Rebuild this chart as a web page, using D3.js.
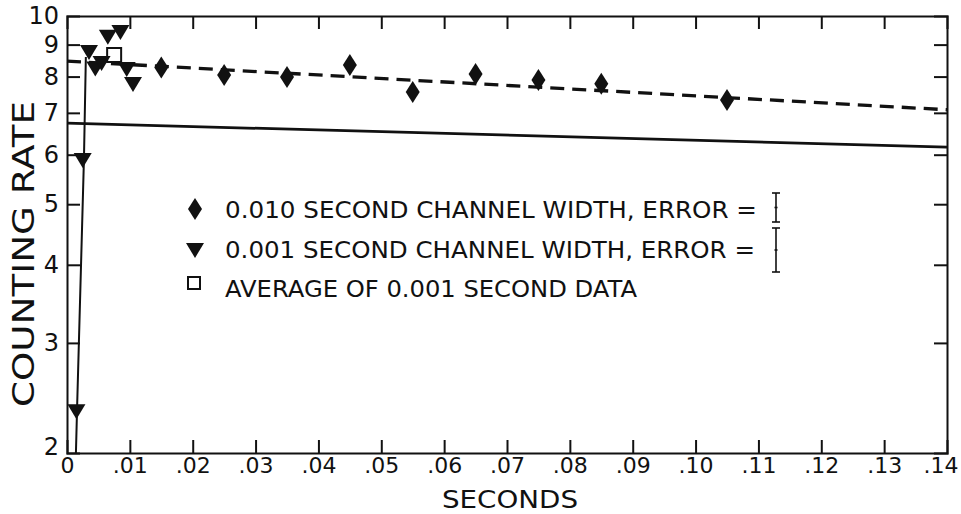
<!DOCTYPE html>
<html>
<head>
<meta charset="utf-8">
<script src="https://cdn.jsdelivr.net/npm/d3@7"></script>
<style>
  body { margin: 0; background: #fff; }
  svg { display: block; font-family: "DejaVu Sans", sans-serif; }
</style>
</head>
<body>
<svg width="961" height="514"></svg>
<script>
// values
const xTicks = [0, .01, .02, .03, .04, .05, .06, .07, .08, .09, .10, .11, .12, .13, .14];
const xTickLabels = ["0", ".01", ".02", ".03", ".04", ".05", ".06", ".07", ".08", ".09", ".10", ".11", ".12", ".13", ".14"];
const yTicks = [2, 3, 4, 5, 6, 7, 8, 9, 10];

// 0.010 s channel width
const diamondTimes = [.015, .025, .035, .045, .055, .065, .075, .085, .105];
const diamondRates = [8.27, 8.05, 7.99, 8.35, 7.56, 8.08, 7.90, 7.79, 7.34];

// 0.001 s channel width
const triangleTimes = [.0015, .0025, .0035, .0045, .0055, .0065, .0085, .0095, .0105];
const triangleRates = [2.35, 5.93, 8.82, 8.3, 8.47, 9.33, 9.5, 8.29, 7.84];

// average of 0.001 s data
const averageTime = [.0075];
const averageRate = [8.66];

// fitted lines (straight on the log scale)
const dashedLine = [[0, 8.47], [.14, 7.08]];
const solidLine = [[0, 6.74], [.14, 6.17]];
const riseLine = [[.00142, 2.0], [.0016, 2.35], [.0027, 5.93], [.0030, 8.6]];

const legendLabels = [
  "0.010 SECOND CHANNEL WIDTH,  ERROR =",
  "0.001 SECOND CHANNEL WIDTH,  ERROR =",
  "AVERAGE OF 0.001 SECOND DATA"
];

const svg = d3.select("svg");
const margin = { top: 16, right: 14, bottom: 61, left: 67 };
const width = 961, height = 514;
const ink = "#111";

const x = d3.scaleLinear()
  .domain([0, .14])
  .range([margin.left, width - margin.right]);

const y = d3.scaleLog()
  .domain([2, 10])
  .range([height - margin.bottom, margin.top]);

const tickLen = 13;

// axes with inward ticks on all four sides
const axisB = svg.append("g")
  .attr("transform", `translate(0,${y(2)})`)
  .call(d3.axisBottom(x).tickValues(xTicks).tickSize(-tickLen).tickFormat((d, i) => xTickLabels[i]).tickPadding(4));
const axisT = svg.append("g")
  .attr("transform", `translate(0,${y(10)})`)
  .call(d3.axisTop(x).tickValues(xTicks).tickSize(-tickLen).tickFormat(""));
const axisL = svg.append("g")
  .attr("transform", `translate(${x(0)},0)`)
  .call(d3.axisLeft(y).tickValues(yTicks).tickSize(-tickLen).tickFormat(d3.format("d")).tickPadding(8));
const axisR = svg.append("g")
  .attr("transform", `translate(${x(.14)},0)`)
  .call(d3.axisRight(y).tickValues(yTicks).tickSize(-tickLen).tickFormat(""));

[axisB, axisT, axisL, axisR].forEach(g => {
  g.select(".domain").attr("stroke", ink).attr("stroke-width", 2);
  g.selectAll(".tick line").attr("stroke", ink).attr("stroke-width", 2);
  g.selectAll("text").attr("fill", ink).attr("font-family", "DejaVu Sans, sans-serif");
});
axisB.selectAll("text").attr("font-size", 22);
axisL.selectAll("text").attr("font-size", 24);
// the end ticks would sit on the frame
axisB.selectAll(".tick line").filter(d => d === 0 || d === .14).remove();
axisT.selectAll(".tick line").filter(d => d === 0 || d === .14).remove();
axisL.selectAll(".tick line").filter(d => d === 2 || d === 10).remove();
axisR.selectAll(".tick line").filter(d => d === 2 || d === 10).remove();
axisL.selectAll(".tick").filter(d => d === 2).select("text").attr("dy", "0.05em");
axisB.selectAll(".tick").filter(d => d === .14).select("text")
  .attr("text-anchor", "end").attr("dx", 11);

// lines
const line = d3.line().x(d => x(d[0])).y(d => y(d[1]));

svg.append("path")
  .datum(solidLine)
  .attr("fill", "none").attr("stroke", ink).attr("stroke-width", 2.7)
  .attr("d", line);

svg.append("path")
  .datum(dashedLine)
  .attr("fill", "none").attr("stroke", ink).attr("stroke-width", 3.3)
  .attr("stroke-dasharray", "14 8")
  .attr("d", line);

svg.append("path")
  .datum(riseLine)
  .attr("fill", "none").attr("stroke", ink).attr("stroke-width", 2)
  .attr("d", line);

// marker shapes
const diamondPath = "M0,-11L7,0L0,11L-7,0Z";
const trianglePath = "M-9,-5L9,-5L0,10Z";
const squarePath = "M-7,-7H7V7H-7Z";

svg.append("g").selectAll("path")
  .data(diamondTimes)
  .join("path")
  .attr("transform", (d, i) => `translate(${x(d)},${y(diamondRates[i])})`)
  .attr("d", diamondPath)
  .attr("fill", ink);

svg.append("g").selectAll("path")
  .data(averageTime)
  .join("path")
  .attr("transform", (d, i) => `translate(${x(d)},${y(averageRate[i])})`)
  .attr("d", squarePath)
  .attr("fill", "#fff").attr("stroke", ink).attr("stroke-width", 2);

svg.append("g").selectAll("path")
  .data(triangleTimes)
  .join("path")
  .attr("transform", (d, i) => `translate(${x(d)},${y(triangleRates[i])})`)
  .attr("d", trianglePath)
  .attr("fill", ink);

// legend
const legend = svg.append("g").attr("transform", "translate(195,0)");
const rows = [209, 249, 288];
const textWidths = [532, 530, 412];
legend.append("path").attr("d", diamondPath).attr("transform", `translate(0,${rows[0]})`).attr("fill", ink);
legend.append("path").attr("d", trianglePath).attr("transform", `translate(0,${rows[1] - 1})`).attr("fill", ink);
legend.append("path").attr("d", "M-6,-6H6V6H-6Z").attr("transform", `translate(-1,${rows[2] - 5})`)
  .attr("fill", "none").attr("stroke", ink).attr("stroke-width", 2);

legend.selectAll("text")
  .data(legendLabels)
  .join("text")
  .attr("x", 30)
  .attr("y", (d, i) => rows[i] + 9)
  .attr("font-size", 23)
  .attr("fill", ink)
  .attr("textLength", (d, i) => textWidths[i])
  .attr("lengthAdjust", "spacingAndGlyphs")
  .text(d => d);

// error bar glyphs
const errorBars = [[193, 222], [228, 272]];
errorBars.forEach(([y0, y1]) => {
  const g = legend.append("g").attr("transform", "translate(581,0)")
    .attr("stroke", ink).attr("stroke-width", 1.6);
  g.append("line").attr("x1", 0).attr("x2", 0).attr("y1", y0).attr("y2", y1);
  g.append("line").attr("x1", -4).attr("x2", 4).attr("y1", y0).attr("y2", y0);
  g.append("line").attr("x1", -4).attr("x2", 4).attr("y1", y1).attr("y2", y1);
  g.append("line").attr("x1", -1.5).attr("x2", 1.5).attr("y1", (y0 + y1) / 2).attr("y2", (y0 + y1) / 2);
});

// axis titles
svg.append("text")
  .attr("x", 510)
  .attr("y", 508)
  .attr("text-anchor", "middle")
  .attr("font-size", 25)
  .attr("fill", ink)
  .attr("textLength", 136)
  .attr("lengthAdjust", "spacingAndGlyphs")
  .text("SECONDS");

svg.append("text")
  .attr("transform", "translate(34,254) rotate(-90)")
  .attr("text-anchor", "middle")
  .attr("font-size", 30)
  .attr("fill", ink)
  .attr("textLength", 306)
  .attr("lengthAdjust", "spacingAndGlyphs")
  .text("COUNTING RATE");
</script>
</body>
</html>
